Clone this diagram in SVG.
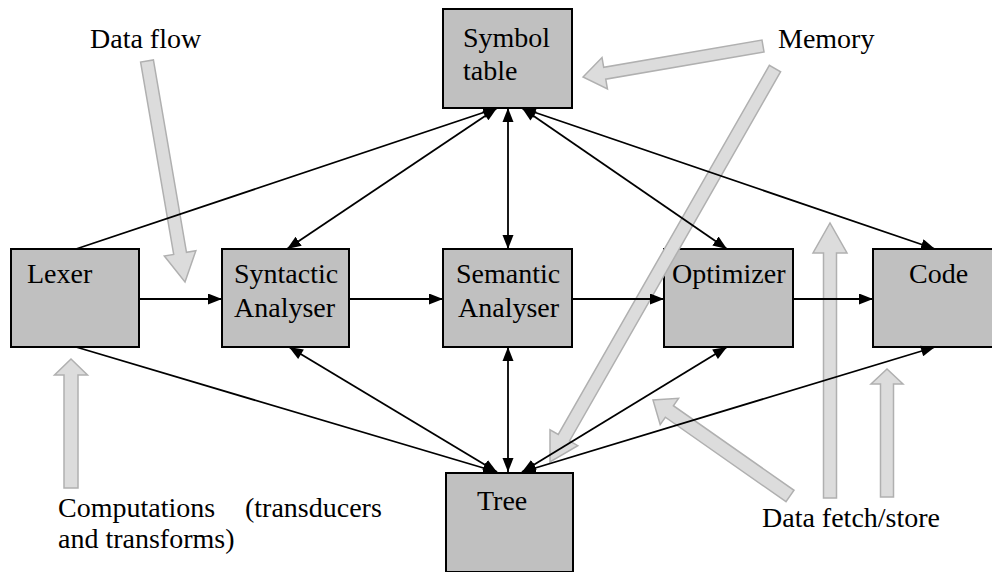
<svg xmlns="http://www.w3.org/2000/svg" width="992" height="572" viewBox="0 0 992 572" font-family="Liberation Serif, Times New Roman, serif" font-size="28">
  <defs>
    <marker id="head-end" markerUnits="userSpaceOnUse" markerWidth="15" markerHeight="12" refX="14" refY="5.5" orient="auto">
      <path d="M0,0 L14,5.5 L0,11 z" fill="#000"/>
    </marker>
    <marker id="head-start" markerUnits="userSpaceOnUse" markerWidth="15" markerHeight="12" refX="0" refY="5.5" orient="auto">
      <path d="M14,0 L0,5.5 L14,11 z" fill="#000"/>
    </marker>
  </defs>

  <rect width="992" height="572" fill="#fff"/>

  <!-- compiler stages -->
  <g id="symbol-table">
    <rect x="443" y="9" width="129" height="99" fill="#c0c0c0" stroke="#000" stroke-width="2"/>
    <text x="463" y="47" font-family="Liberation Serif, Times New Roman, serif">Symbol</text>
    <text x="463" y="80" font-family="Liberation Serif, Times New Roman, serif">table</text>
  </g>
  <g id="lexer">
    <rect x="11" y="249" width="128" height="98" fill="#c0c0c0" stroke="#000" stroke-width="2"/>
    <text x="27" y="283" font-family="Liberation Serif, Times New Roman, serif">Lexer</text>
  </g>
  <g id="syntactic-analyser">
    <rect x="222" y="249" width="127" height="98" fill="#c0c0c0" stroke="#000" stroke-width="2"/>
    <text x="234" y="283" font-family="Liberation Serif, Times New Roman, serif">Syntactic</text>
    <text x="234" y="317" font-family="Liberation Serif, Times New Roman, serif">Analyser</text>
  </g>
  <g id="semantic-analyser">
    <rect x="443" y="249" width="129" height="98" fill="#c0c0c0" stroke="#000" stroke-width="2"/>
    <text x="456" y="283" font-family="Liberation Serif, Times New Roman, serif">Semantic</text>
    <text x="458" y="317" font-family="Liberation Serif, Times New Roman, serif">Analyser</text>
  </g>
  <g id="optimizer">
    <rect x="664" y="249" width="129" height="98" fill="#c0c0c0" stroke="#000" stroke-width="2"/>
    <text x="672" y="283" font-family="Liberation Serif, Times New Roman, serif">Optimizer</text>
  </g>
  <g id="code">
    <rect x="873" y="249" width="128" height="98" fill="#c0c0c0" stroke="#000" stroke-width="2"/>
    <text x="909" y="283" font-family="Liberation Serif, Times New Roman, serif">Code</text>
  </g>
  <g id="tree">
    <rect x="446" y="473" width="127" height="99" fill="#c0c0c0" stroke="#000" stroke-width="2"/>
    <text x="477" y="510" font-family="Liberation Serif, Times New Roman, serif">Tree</text>
  </g>

  <!-- grey call-out arrows -->
  <g id="callouts" fill="#dcdcdc" stroke="#b0b0b0" stroke-width="1.5">
    <polygon transform="translate(147,61) rotate(80.24)" points="0,-6.5 195.2,-6.5 195.2,-16 224.2,0 195.2,16 195.2,6.5 0,6.5"/>
    <polygon transform="translate(763,46) rotate(170.23)" points="0,-6 160.6,-6 160.6,-16 182.6,0 160.6,16 160.6,6 0,6"/>
    <polygon transform="translate(775,68.5) rotate(119.76)" points="0,-6.5 425.3,-6.5 425.3,-16 453.3,0 425.3,16 425.3,6.5 0,6.5"/>
    <polygon transform="translate(790,496) rotate(-144.98)" points="0,-7 147.3,-7 147.3,-16 167.3,0 147.3,16 147.3,7 0,7"/>
    <polygon transform="translate(830,498) rotate(-90)" points="0,-6.5 245,-6.5 245,-17 275,0 245,17 245,6.5 0,6.5"/>
    <polygon transform="translate(887,497) rotate(-90)" points="0,-6.5 113,-6.5 113,-16 128,0 113,16 113,6.5 0,6.5"/>
    <polygon transform="translate(71,488) rotate(-90)" points="0,-7 113,-7 113,-16.5 129,0 113,16.5 113,7 0,7"/>
  </g>

  <!-- connectors -->
  <g id="connectors" fill="none" stroke="#000" stroke-width="1.8">
    <line x1="76" y1="249" x2="497" y2="108" marker-end="url(#head-end)"/>
    <line x1="497" y1="108" x2="287" y2="249" marker-start="url(#head-start)" marker-end="url(#head-end)"/>
    <line x1="508" y1="108" x2="508" y2="249" marker-start="url(#head-start)" marker-end="url(#head-end)"/>
    <line x1="522" y1="108" x2="727" y2="249" marker-start="url(#head-start)" marker-end="url(#head-end)"/>
    <line x1="522" y1="108" x2="935" y2="249" marker-start="url(#head-start)" marker-end="url(#head-end)"/>

    <line x1="139" y1="299" x2="222" y2="299" marker-end="url(#head-end)"/>
    <line x1="349" y1="299" x2="443" y2="299" marker-end="url(#head-end)"/>
    <line x1="572" y1="299" x2="664" y2="299" marker-end="url(#head-end)"/>
    <line x1="793" y1="299" x2="873" y2="299" marker-end="url(#head-end)"/>

    <line x1="76" y1="347" x2="497" y2="472" marker-end="url(#head-end)"/>
    <line x1="289" y1="347" x2="497" y2="472" marker-start="url(#head-start)" marker-end="url(#head-end)"/>
    <line x1="508" y1="347" x2="508" y2="472" marker-start="url(#head-start)" marker-end="url(#head-end)"/>
    <line x1="727" y1="347" x2="522" y2="472" marker-start="url(#head-start)" marker-end="url(#head-end)"/>
    <line x1="935" y1="347" x2="522" y2="472" marker-start="url(#head-start)" marker-end="url(#head-end)"/>
  </g>

  <!-- annotations -->
  <g id="notes">
    <text x="90" y="48" font-family="Liberation Serif, Times New Roman, serif">Data flow</text>
    <text x="778" y="48" font-family="Liberation Serif, Times New Roman, serif">Memory</text>
    <text x="58" y="517" font-family="Liberation Serif, Times New Roman, serif">Computations</text>
    <text x="245" y="517" font-family="Liberation Serif, Times New Roman, serif">(transducers</text>
    <text x="58" y="548" font-family="Liberation Serif, Times New Roman, serif">and transforms)</text>
    <text x="762" y="527" font-family="Liberation Serif, Times New Roman, serif">Data fetch/store</text>
  </g>
</svg>
